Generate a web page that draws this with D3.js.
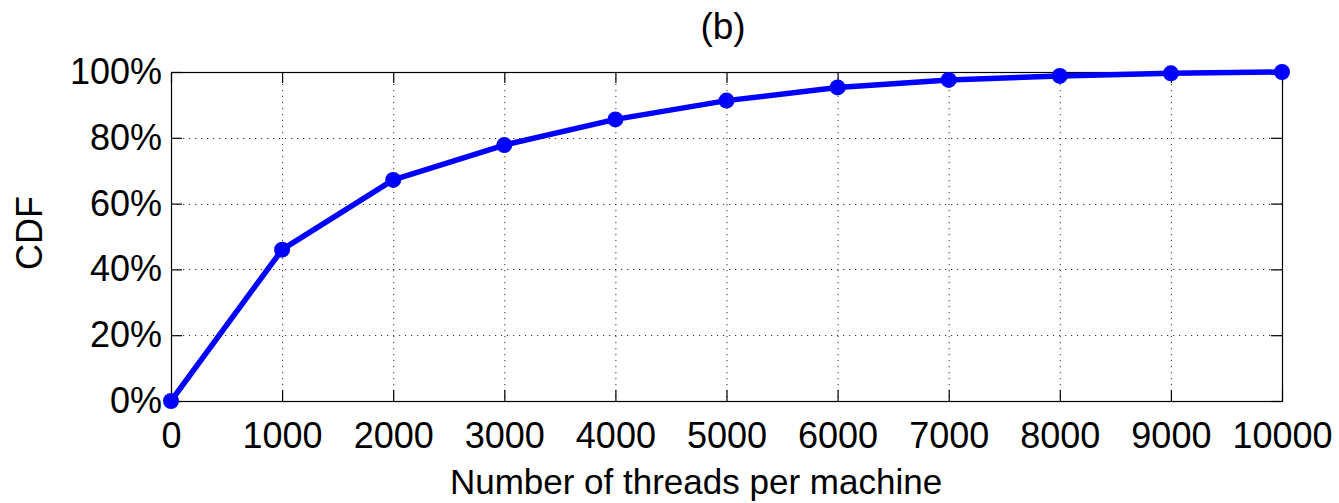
<!DOCTYPE html>
<html>
<head>
<meta charset="utf-8">
<script src="https://cdn.jsdelivr.net/npm/d3@7"></script>
<style>
  body { margin: 0; background: #fff; }
  text { font-family: "Liberation Sans", Arial, sans-serif; fill: #000; }
</style>
</head>
<body>
<svg id="chart" width="1339" height="503"></svg>
<script>
// data
var threads = [0, 1000, 2000, 3000, 4000, 5000, 6000, 7000, 8000, 9000, 10000];
var cdf = [0, 0.46, 0.672, 0.778, 0.856, 0.913, 0.953, 0.976, 0.988, 0.996, 1.0];
var xTicks = [0, 1000, 2000, 3000, 4000, 5000, 6000, 7000, 8000, 9000, 10000];
var yTicks = [0, 0.2, 0.4, 0.6, 0.8, 1.0];

var plotLeft = 171, plotRight = 1282, plotTop = 72, plotBottom = 401;
var svg = d3.select("#chart");

var x = d3.scaleLinear().domain([0, 10000]).range([plotLeft, plotRight]);
var y = d3.scaleLinear().domain([0, 1]).range([plotBottom, plotTop]);

// grid
var grid = svg.append("g").attr("stroke", "#333").attr("stroke-width", 1)
    .attr("stroke-dasharray", "1.2,4.8");
grid.selectAll("line.gx").data(xTicks.slice(1, -1)).enter().append("line")
    .attr("x1", function(d){ return x(d) + 0.5; })
    .attr("x2", function(d){ return x(d) + 0.5; })
    .attr("y1", plotTop).attr("y2", plotBottom);
grid.selectAll("line.gy").data(yTicks.slice(1, -1)).enter().append("line")
    .attr("y1", function(d){ return Math.round(y(d)) + 0.5; })
    .attr("y2", function(d){ return Math.round(y(d)) + 0.5; })
    .attr("x1", plotLeft).attr("x2", plotRight);

// box
svg.append("rect")
    .attr("x", plotLeft + 0.5).attr("y", plotTop + 0.5)
    .attr("width", plotRight - plotLeft).attr("height", plotBottom - plotTop)
    .attr("fill", "none").attr("stroke", "#000").attr("stroke-width", 1.2);

// axes with inward ticks on all four sides
var tickLen = 11;
svg.append("g").attr("transform", "translate(0," + plotBottom + ")")
    .call(d3.axisBottom(x).tickValues(xTicks).tickSize(-tickLen).tickPadding(21)
      .tickFormat(d3.format("d")))
    .call(function(g){ g.select(".domain").remove(); });
svg.append("g").attr("transform", "translate(0," + plotTop + ")")
    .call(d3.axisTop(x).tickValues(xTicks).tickSize(-tickLen).tickFormat(""))
    .call(function(g){ g.select(".domain").remove(); });
svg.append("g").attr("transform", "translate(" + plotLeft + ",0)")
    .call(d3.axisLeft(y).tickValues(yTicks).tickSize(-tickLen).tickPadding(9)
      .tickFormat(d3.format(".0%")))
    .call(function(g){ g.select(".domain").remove(); });
svg.append("g").attr("transform", "translate(" + plotRight + ",0)")
    .call(d3.axisRight(y).tickValues(yTicks).tickSize(-tickLen).tickFormat(""))
    .call(function(g){ g.select(".domain").remove(); });

svg.selectAll(".tick line").attr("stroke", "#000").attr("stroke-width", 1.2);
svg.selectAll(".tick text").style("font-size", "36px")
    .style("font-family", "'Liberation Sans', Arial, sans-serif").attr("fill", "#000");

// line + markers
var pts = threads.map(function(t, i){ return [t, cdf[i]]; });
svg.append("path")
    .datum(pts)
    .attr("fill", "none")
    .attr("stroke", "#0000ff")
    .attr("stroke-width", 5.5)
    .attr("stroke-linejoin", "round")
    .attr("d", d3.line().x(function(d){ return x(d[0]); }).y(function(d){ return y(d[1]); }));

svg.selectAll("circle.pt").data(pts).enter().append("circle")
    .attr("cx", function(d){ return x(d[0]); })
    .attr("cy", function(d){ return y(d[1]); })
    .attr("r", 8)
    .attr("fill", "#0000ff");

// labels
svg.append("text").attr("x", 723).attr("y", 39).attr("text-anchor", "middle")
    .style("font-size", "37px").text("(b)");
svg.append("text").attr("x", 696).attr("y", 494).attr("text-anchor", "middle")
    .style("font-size", "35px").text("Number of threads per machine");
svg.append("text").attr("transform", "translate(42,233) rotate(-90)")
    .attr("text-anchor", "middle").style("font-size", "36px").text("CDF");
</script>
</body>
</html>
